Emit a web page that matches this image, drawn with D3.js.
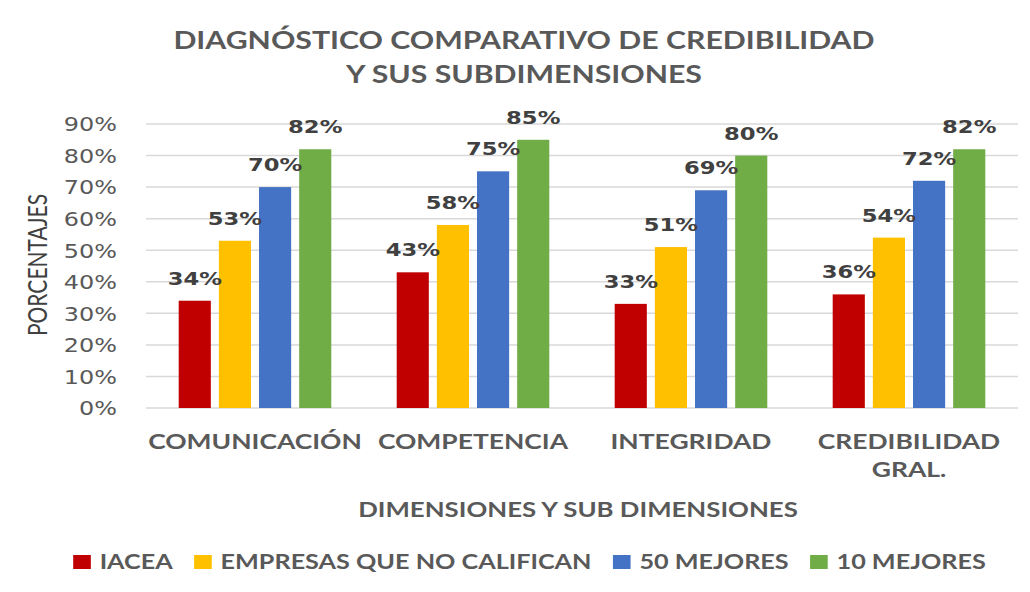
<!DOCTYPE html>
<html>
<head>
<meta charset="utf-8">
<script src="https://cdn.jsdelivr.net/npm/d3@7"></script>
<style>
  body { margin: 0; background: #fff; }
  text { fill: #595959; }
</style>
</head>
<body>
<div id="chart"></div>
<script>
var categories = [['COMUNICACIÓN'], ['COMPETENCIA'], ['INTEGRIDAD'], ['CREDIBILIDAD', 'GRAL.']];
var seriesNames = ['IACEA', 'EMPRESAS QUE NO CALIFICAN', '50 MEJORES', '10 MEJORES'];
var iacea = [0.34, 0.43, 0.33, 0.36];
var noCalifican = [0.53, 0.58, 0.51, 0.54];
var mejores50 = [0.70, 0.75, 0.69, 0.72];
var mejores10 = [0.82, 0.85, 0.80, 0.82];
var yTicks = [0, 0.1, 0.2, 0.3, 0.4, 0.5, 0.6, 0.7, 0.8, 0.9];
var colors = ['#C00000', '#FFC000', '#4472C4', '#70AD47'];

var series = [iacea, noCalifican, mejores50, mejores10];
var w = 1030, h = 592;
var sx = 1.26; // the original picture is stretched sideways
var plotLeft = 146 / sx, plotRight = 1018 / sx, plotTop = 124, plotBottom = 408;
var labelFont = 'Lato, "Open Sans", sans-serif';
var numFont = '"DejaVu Sans", Verdana, sans-serif';

var svg = d3.select('#chart').append('svg')
            .attr('width', w)
            .attr('height', h);

var root = svg.append('g').attr('transform', 'scale(' + sx + ',1)');

var x0 = d3.scaleBand()
            .domain(d3.range(categories.length))
            .range([plotLeft, plotRight])
            .paddingInner(0.3)
            .paddingOuter(0.15);

var x1 = d3.scaleBand()
            .domain(d3.range(series.length))
            .range([0, x0.bandwidth()])
            .paddingInner(0.2);

var y = d3.scaleLinear().domain([0, 0.9]).range([plotBottom, plotTop]);

// gridlines
root.append('g')
    .selectAll('line')
    .data(yTicks)
    .enter()
    .append('line')
    .attr('x1', plotLeft)
    .attr('x2', plotRight)
    .attr('y1', function(d){ return y(d); })
    .attr('y2', function(d){ return y(d); })
    .attr('stroke', '#d9d9d9')
    .attr('stroke-width', 1.5);

// y axis labels
var yAxis = root.append('g')
    .attr('transform', 'translate(' + (117 / sx) + ',0)')
    .call(d3.axisLeft(y).tickValues(yTicks).tickFormat(d3.format('.0%')).tickSize(0).tickPadding(0));
yAxis.select('.domain').remove();
yAxis.selectAll('text')
    .attr('font-family', numFont)
    .attr('font-size', 19)
    .attr('dy', '0.36em')
    .style('fill', '#595959');

// bars
var groups = root.append('g')
    .selectAll('g')
    .data(categories)
    .enter()
    .append('g')
    .attr('transform', function(d, i){ return 'translate(' + x0(i) + ',0)'; });

var rows = function(d, i){ return series.map(function(s, j){ return {s: j, v: s[i]}; }); };

groups.selectAll('rect')
    .data(rows)
    .enter()
    .append('rect')
    .attr('x', function(d){ return x1(d.s); })
    .attr('width', x1.bandwidth())
    .attr('y', function(d){ return y(d.v); })
    .attr('height', function(d){ return plotBottom - y(d.v); })
    .attr('fill', function(d){ return colors[d.s]; });

groups.selectAll('text.val')
    .data(rows)
    .enter()
    .append('text')
    .attr('class', 'val')
    .attr('x', function(d){ return x1(d.s) + x1.bandwidth() / 2; })
    .attr('y', function(d){ return y(d.v) - 16; })
    .attr('text-anchor', 'middle')
    .attr('font-family', numFont)
    .attr('font-weight', 'bold')
    .attr('font-size', 18)
    .style('fill', '#404040')
    .text(function(d){ return d3.format('.0%')(d.v); });

// category labels
var catText = root.append('g')
    .selectAll('text')
    .data(categories)
    .enter()
    .append('text')
    .attr('x', function(d, i){ return x0(i) + x0.bandwidth() / 2; })
    .attr('y', 449)
    .attr('text-anchor', 'middle')
    .attr('font-family', labelFont)
    .attr('font-weight', 'bold')
    .attr('font-size', 21);
catText.selectAll('tspan')
    .data(function(d){ return d; })
    .enter()
    .append('tspan')
    .attr('x', function(){ return d3.select(this.parentNode).attr('x'); })
    .attr('dy', function(d, i){ return i === 0 ? 0 : 28; })
    .text(function(d){ return d; });

// title
root.append('text')
    .attr('y', 49)
    .attr('text-anchor', 'middle')
    .attr('font-family', labelFont)
    .attr('font-weight', 'bold')
    .attr('font-size', 24)
    .selectAll('tspan')
    .data(['DIAGNÓSTICO COMPARATIVO DE CREDIBILIDAD', 'Y SUS SUBDIMENSIONES'])
    .enter()
    .append('tspan')
    .attr('x', 524 / sx)
    .attr('dy', function(d, i){ return i === 0 ? 0 : 34; })
    .text(function(d){ return d; });

// axis titles
root.append('text')
    .attr('transform', 'translate(' + (47 / sx) + ',265) rotate(-90)')
    .attr('text-anchor', 'middle')
    .attr('font-family', labelFont)
    .attr('font-size', 21)
    .style('fill', '#404040')
    .text('PORCENTAJES');

root.append('text')
    .attr('x', 578 / sx)
    .attr('y', 517)
    .attr('text-anchor', 'middle')
    .attr('font-family', labelFont)
    .attr('font-weight', 'bold')
    .attr('font-size', 20.5)
    .text('DIMENSIONES Y SUB DIMENSIONES');

// legend
var items = root.append('g')
    .selectAll('g')
    .data(seriesNames)
    .enter()
    .append('g');
items.append('rect')
    .attr('width', 14)
    .attr('height', 14)
    .attr('y', -14)
    .attr('fill', function(d, i){ return colors[i]; });
items.append('text')
    .attr('x', 21)
    .attr('font-family', labelFont)
    .attr('font-weight', 'bold')
    .attr('font-size', 20)
    .text(function(d){ return d; });

var gap = 17;
var pos = 0, offsets = [];
items.each(function(){
    offsets.push(pos);
    pos += 21 + this.querySelector('text').getComputedTextLength() + gap;
});
var total = pos - gap;
var start = 529.5 / sx - total / 2;
items.attr('transform', function(d, i){ return 'translate(' + (start + offsets[i]) + ',569)'; });
</script>
</body>
</html>
